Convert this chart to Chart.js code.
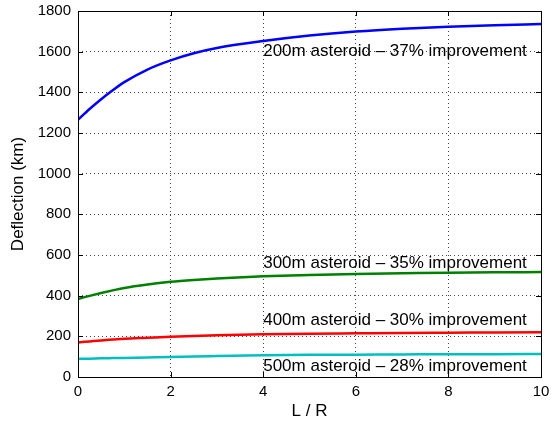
<!DOCTYPE html>
<html>
<head>
<meta charset="utf-8">
<script src="https://cdn.jsdelivr.net/npm/chart.js@4"></script>
<style>
  html, body { margin: 0; padding: 0; background: #fff; }
  #wrap { width: 551px; height: 425px; }
</style>
</head>
<body>
<div id="wrap"><canvas id="chart" width="551" height="425"></canvas></div>
<script>
// L / R values along the x axis
const lr = [0, 0.25, 0.5, 0.75, 1, 1.5, 2, 2.5, 3, 4, 5, 6, 7, 8, 9, 10];
// deflection in km for each asteroid size
const d200 = [1265, 1318, 1366, 1410, 1450, 1512, 1557, 1592, 1618, 1652, 1679, 1699, 1713, 1723, 1730, 1736];
const d300 = [384, 399, 413, 426, 438, 455, 468, 477, 484, 495, 502, 507, 510, 513, 515, 516];
const d400 = [170, 175, 180, 184, 188, 193, 198, 202, 205, 210, 213, 215, 217, 218, 219, 220];
const d500 = [89, 90, 92, 93, 94, 96, 98, 101, 103, 107, 109, 110, 111, 112, 112, 113];
const names = ['200m asteroid', '300m asteroid', '400m asteroid', '500m asteroid'];
const gains = ['37%', '35%', '30%', '28%'];
const labelY = [1600, 560, 280, 54];
const xTicks = [0, 2, 4, 6, 8, 10];
const yTicks = [0, 200, 400, 600, 800, 1000, 1200, 1400, 1600, 1800];

const FONT = '"Liberation Sans", Arial, sans-serif';

function pts(ys) {
    return lr.map((x, i) => ({ x: x, y: ys[i] }));
}

const boxPlugin = {
    id: 'box',
    afterDraw(chart) {
        const ctx = chart.ctx;
        const a = chart.chartArea;
        const xs = chart.scales.x, ys = chart.scales.y;
        ctx.save();
        // annotations
        ctx.fillStyle = '#000';
        ctx.font = '17px ' + FONT;
        ctx.textBaseline = 'middle';
        ctx.textAlign = 'left';
        names.forEach((n, i) => {
            ctx.fillText(n + ' \u2013 ' + gains[i] + ' improvement', xs.getPixelForValue(4), ys.getPixelForValue(labelY[i]));
        });
        // frame and inward ticks
        ctx.strokeStyle = '#000';
        ctx.lineWidth = 1;
        ctx.strokeRect(Math.round(a.left) + 0.5, Math.round(a.top) + 0.5, Math.round(a.right - a.left), Math.round(a.bottom - a.top));
        ctx.beginPath();
        xTicks.forEach(v => {
            const p = Math.round(xs.getPixelForValue(v)) + 0.5;
            ctx.moveTo(p, a.bottom); ctx.lineTo(p, a.bottom - 5);
            ctx.moveTo(p, a.top); ctx.lineTo(p, a.top + 5);
        });
        yTicks.forEach(v => {
            const p = Math.round(ys.getPixelForValue(v)) + 0.5;
            ctx.moveTo(a.left, p); ctx.lineTo(a.left + 5, p);
            ctx.moveTo(a.right, p); ctx.lineTo(a.right - 5, p);
        });
        ctx.stroke();
        ctx.restore();
    }
};

document.addEventListener('DOMContentLoaded', function () {
    const ctx = document.getElementById('chart').getContext('2d');
    const line = (data, color) => ({
        data: pts(data),
        borderColor: color,
        borderWidth: 2.5,
        pointRadius: 0,
        fill: false,
        cubicInterpolationMode: 'monotone'
    });

    new Chart(ctx, {
        type: 'line',
        data: {
            datasets: [
                line(d200, '#0000ff'),
                line(d300, '#008000'),
                line(d400, '#ff0000'),
                line(d500, '#00bfbf')
            ]
        },
        options: {
            responsive: false,
            animation: false,
            layout: { padding: { top: 11, right: 10, left: 0, bottom: 0 } },
            plugins: {
                legend: { display: false },
                tooltip: { enabled: false }
            },
            scales: {
                x: {
                    type: 'linear',
                    min: 0,
                    max: 10,
                    afterBuildTicks: s => { s.ticks = xTicks.map(v => ({ value: v })); },
                    afterFit: s => { s.height = 48; s.paddingLeft = 0; s.paddingRight = 0; },
                    grid: { color: '#444', drawTicks: false, lineWidth: 1 },
                    border: { display: false, dash: [1, 3] },
                    ticks: { color: '#000', font: { family: FONT, size: 15 }, padding: 6, maxRotation: 0, callback: v => String(v) },
                    title: { display: true, text: 'L / R', color: '#000', font: { family: FONT, size: 17 }, padding: { top: 0, bottom: 3 } }
                },
                y: {
                    min: 0,
                    max: 1800,
                    afterBuildTicks: s => { s.ticks = yTicks.map(v => ({ value: v })); },
                    afterFit: s => { s.width = 78; s.paddingTop = 0; s.paddingBottom = 0; },
                    grid: { color: '#444', drawTicks: false, lineWidth: 1 },
                    border: { display: false, dash: [1, 3] },
                    ticks: { color: '#000', font: { family: FONT, size: 15 }, padding: 7, callback: v => String(v) },
                    title: { display: true, text: 'Deflection (km)', color: '#000', font: { family: FONT, size: 17 }, padding: { top: 8, bottom: 4 } }
                }
            }
        },
        plugins: [boxPlugin]
    });
});
</script>
</body>
</html>
